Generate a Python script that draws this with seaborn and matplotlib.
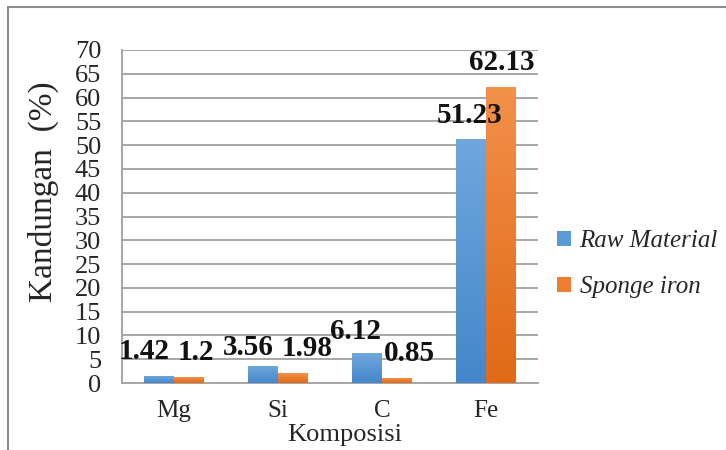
import matplotlib
matplotlib.use("Agg")
import matplotlib.pyplot as plt
import seaborn as sns
import pandas as pd
import numpy as np
from matplotlib.lines import Line2D
from matplotlib.patches import Patch
from matplotlib.colors import LinearSegmentedColormap

categories = ["Mg", "Si", "C", "Fe"]
raw_material = [1.42, 3.56, 6.12, 51.23]
sponge_iron = [1.2, 1.98, 0.85, 62.13]
series_names = ["Raw Material", "Sponge iron"]
yticks = list(range(0, 75, 5))

colors = ["#5B9BD5", "#ED7D31"]
# top-to-bottom shading of each series
gradients = [("#6FA7DC", "#4587CA"), ("#F3904A", "#E06A17")]

df = pd.DataFrame({
    "Komposisi": categories * 2,
    "Kandungan": raw_material + sponge_iron,
    "Seri": [series_names[0]] * 4 + [series_names[1]] * 4,
})

sns.set_theme(style="white")
plt.rcParams["font.family"] = ["Liberation Serif", "DejaVu Serif"]

fig = plt.figure(figsize=(7.26, 4.5), dpi=100)
ax = fig.add_axes([122 / 726, 1 - 383 / 450, 416 / 726, 333 / 450])

sns.barplot(data=df, x="Komposisi", y="Kandungan", hue="Seri",
            palette=colors, width=0.57, gap=0, saturation=1,
            linewidth=0, legend=False, ax=ax, zorder=3)

xlim = ax.get_xlim()
# replace flat fills with a vertical gradient
for container, (ctop, cbot) in zip(ax.containers, gradients):
    cmap = LinearSegmentedColormap.from_list("g", [cbot, ctop])
    for bar in container:
        x0 = bar.get_x()
        x1 = x0 + bar.get_width()
        h = bar.get_height()
        grad = np.linspace(1, 0, 64).reshape(-1, 1)
        ax.imshow(grad, cmap=cmap, aspect="auto", extent=(x0, x1, 0, h),
                  origin="upper", zorder=3, interpolation="bilinear")
        bar.set_facecolor("none")
ax.set_xlim(xlim)

ax.set_ylim(0, 70)
ax.set_yticks(yticks)
ax.set_yticklabels([str(t) for t in yticks], fontsize=19)
ax.tick_params(axis="y", length=0, pad=15)
ax.tick_params(axis="x", length=0, pad=12, labelsize=18)
ax.yaxis.grid(True, color="#A6A6A6", linewidth=1.4, zorder=0)
ax.set_axisbelow(True)
for s in ["top", "right"]:
    ax.spines[s].set_visible(False)
for s in ["left", "bottom"]:
    ax.spines[s].set_color("#A6A6A6")
    ax.spines[s].set_linewidth(1.4)
    ax.spines[s].set_zorder(1)

ax.set_ylabel("Kandungan  (%)", fontsize=24)
ax.yaxis.set_label_coords(-0.152, 0.574)
ax.set_xlabel("Komposisi", fontsize=19)
ax.xaxis.set_label_coords(0.536, -0.124)

# value labels, nudged by hand around each bar top (pixel offsets)
offsets = [
    [(-15, 25), (-15, 19), (-12, 22), (-2, 24)],
    [(7, 25), (14, 25), (13, 25), (1, 25)],
]
for si, (container, vals) in enumerate(zip(ax.containers, [raw_material, sponge_iron])):
    for bi, (bar, v) in enumerate(zip(container, vals)):
        cx = bar.get_x() + bar.get_width() / 2
        dx, dy = offsets[si][bi]
        ax.annotate(f"{v:g}", (cx, v), xytext=(dx, dy), textcoords="offset pixels",
                    ha="center", va="center", fontsize=21, fontweight="bold",
                    color="#111111", zorder=5, annotation_clip=False)

handles = [Patch(facecolor=c, edgecolor="none") for c in colors]
leg = fig.legend(handles, series_names, loc="center left",
                 bbox_to_anchor=(547 / 726, 1 - 264 / 450),
                 frameon=False, handlelength=0.55, handleheight=0.55,
                 handletextpad=0.35, labelspacing=0.95, borderaxespad=0,
                 prop={"family": "Liberation Serif", "style": "italic", "size": 18})

# outer chart frame
fig.add_artist(Line2D([8 / 726, 8 / 726], [0, 1 - 7 / 450], color="#8C8C8C", lw=1.5,
                      transform=fig.transFigure))
fig.add_artist(Line2D([8 / 726, 1], [1 - 7 / 450, 1 - 7 / 450], color="#8C8C8C", lw=1.5,
                      transform=fig.transFigure))

fig.savefig("out.png", dpi=100)
